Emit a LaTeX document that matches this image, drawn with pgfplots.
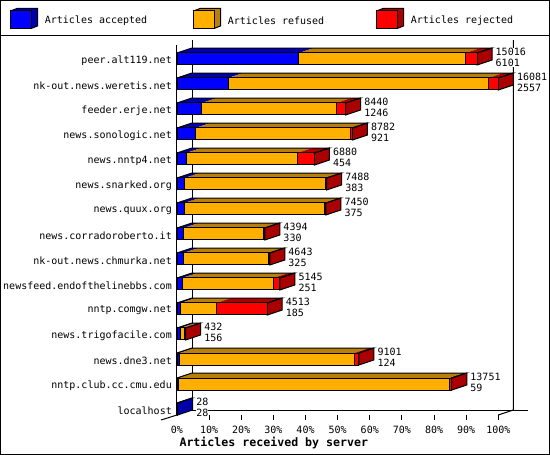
\documentclass[border=0pt]{standalone}
\usepackage{pgfplots}
\pgfplotsset{compat=1.18}
\usepackage{pgfplotstable}
\usepackage{fontspec}
\setmainfont{DejaVu Sans Mono}
\definecolor{cB}{HTML}{0000FF}\definecolor{dB}{HTML}{0000AA}
\definecolor{cO}{HTML}{FFAF00}\definecolor{dO}{HTML}{B8800A}
\definecolor{cR}{HTML}{FF0000}\definecolor{dR}{HTML}{AA0000}
\pgfplotstableread{
idx accepted refused rejected total
0  6101 8343 572 15016
1  2557 13024 500 16081
2  1246 6735 459 8440
3  921 7746 115 8782
4  454 5573 853 6880
5  383 7032 73 7488
6  375 7015 60 7450
7  330 3994 70 4394
8  325 4269 49 4643
9  251 4574 320 5145
10 185 1784 2544 4513
11 156 210 66 432
12 124 8759 218 9101
13 59 13583 109 13751
14 28 0 0 28
}\datatable
% one depth step: 15 px across and 5 px up
\newcommand{\dx}{751}
\newcommand{\dy}{0.2}
\newcommand{\hh}{0.24}
\newcommand{\topface}[4]{% row, from, to, colour
  \pgfmathsetmacro{\yf}{#1-\hh}\pgfmathsetmacro{\yb}{#1-\hh-\dy}
  \edef\xa{\the\numexpr#2+\dx\relax}\edef\xb{\the\numexpr#3+\dx\relax}
  \addplot[fill=#4,draw=none,forget plot] coordinates {(#2,\yf) (#3,\yf) (\xb,\yb) (\xa,\yb)} --cycle;
}
\newcommand{\labelnode}[4]{%
  \node[anchor=west,fill=white,inner sep=0pt,align=left,font=\fontsize{10}{11}\selectfont,xshift=3.5pt] at (axis cs:#1,#2) {#3\\#4};
}
\newcommand{\barrow}[6]{% row accepted refused rejected total sidecolour
  \edef\xo{\the\numexpr#2\relax}\edef\xr{\the\numexpr#2+#3\relax}
  \topface{#1}{0}{\xo}{dB}
  \topface{#1}{\xo}{\xr}{dO}
  \topface{#1}{\xr}{#5}{dR}
  \pgfmathsetmacro{\yf}{#1-\hh}\pgfmathsetmacro{\yb}{#1-\hh-\dy}
  \pgfmathsetmacro{\yg}{#1+\hh}\pgfmathsetmacro{\yh}{#1+\hh-\dy}
  \edef\xe{\the\numexpr#5+\dx\relax}
  \pgfmathsetmacro{\yl}{#1-0.07}
  \addplot[fill=#6,draw=black,line width=1pt,forget plot] coordinates {(#5,\yf) (\xe,\yb) (\xe,\yh) (#5,\yg)} --cycle;
  \addplot[draw=black,line width=1pt,forget plot] coordinates {(0,\yf) (\dx,\yb) (\xe,\yb) (#5,\yf)};
  \edef\temp{\noexpand\labelnode{\xe}{\yl}{#5}{#2}}\temp
}
\pgfplotsset{common/.style={
  at={(177pt,40pt)},anchor=south west,scale only axis,
  width=321.3pt,height=370pt,
  xmin=0,xmax=16081,ymin=-0.56,ymax=14.24,y dir=reverse,
  clip=false}}
\begin{document}
\begin{tikzpicture}[x=1pt,y=1pt]
\useasboundingbox (0,0) rectangle (550,455);
\fill[white] (0,0) rectangle (550,455);
\begin{axis}[common,
  axis x line*=bottom,axis y line*=left,
  x axis line style={draw=none,-},
  y axis line style={black,line width=1pt,-},
  tick style={black,line width=1pt},
  xtick={1608.1,3216.2,4824.3,6432.4,8040.5,9648.6,11256.7,12864.8,14472.9,16081},
  xticklabels={10\%,20\%,30\%,40\%,50\%,60\%,70\%,80\%,90\%,100\%},
  extra x ticks={0},extra x tick labels={0\%},
  extra x tick style={major tick length=0pt,xticklabel style={yshift=-5pt}},
  major tick length=5pt,
  tick align=outside,
  xtick pos=bottom,
  ytick={0,...,14},
  yticklabels={peer.alt119.net,nk-out.news.weretis.net,feeder.erje.net,news.sonologic.net,news.nntp4.net,news.snarked.org,news.quux.org,news.corradoroberto.it,nk-out.news.chmurka.net,newsfeed.endofthelinebbs.com,nntp.comgw.net,news.trigofacile.com,news.dne3.net,nntp.club.cc.cmu.edu,localhost},
  ytick style={draw=none},
  ytick pos=left,
  tick label style={font=\fontsize{10}{12}\selectfont},
  yticklabel style={inner sep=0pt,xshift=0pt,yshift=-1.5pt},
  xticklabel style={inner sep=0pt,yshift=-6pt},
  scaled x ticks=false,
  xlabel={\bfseries Articles received by server},
  xlabel style={font=\fontsize{11.6}{13}\selectfont,at={(axis description cs:0,0)},anchor=north west,xshift=-1pt,yshift=-18.5pt},
]
% back wall lines
\addplot[black,line width=1pt,forget plot] coordinates {(751,-0.76) (751,14.04) (17581,14.04)};
\addplot[black,line width=1pt,forget plot] coordinates {(16832,-0.76) (16832,14.04) (16081,14.24)};
\addplot[black,line width=1pt,forget plot] coordinates {(0,14.24) (-800,14.44)};
\barrow{0}{6101}{8343}{572}{15016}{dR}
\barrow{1}{2557}{13024}{500}{16081}{dR}
\barrow{2}{1246}{6735}{459}{8440}{dR}
\barrow{3}{921}{7746}{115}{8782}{dR}
\barrow{4}{454}{5573}{853}{6880}{dR}
\barrow{5}{383}{7032}{73}{7488}{dR}
\barrow{6}{375}{7015}{60}{7450}{dR}
\barrow{7}{330}{3994}{70}{4394}{dR}
\barrow{8}{325}{4269}{49}{4643}{dR}
\barrow{9}{251}{4574}{320}{5145}{dR}
\barrow{10}{185}{1784}{2544}{4513}{dR}
\barrow{11}{156}{210}{66}{432}{dR}
\barrow{12}{124}{8759}{218}{9101}{dR}
\barrow{13}{59}{13583}{109}{13751}{dR}
\barrow{14}{28}{0}{0}{28}{dB}
\end{axis}
\begin{axis}[common,hide axis,xbar stacked,bar width=12pt]
\addplot[fill=cB,draw=black,line width=1pt] table[x=accepted,y=idx]{\datatable};
\addplot[fill=cO,draw=black,line width=1pt] table[x=refused,y=idx]{\datatable};
\addplot[fill=cR,draw=black,line width=1pt] table[x=rejected,y=idx]{\datatable};
\end{axis}
% legend
\foreach \x/\c/\d/\t in {10.5/cB/dB/Articles accepted,193.5/cO/dO/Articles refused,376.5/cR/dR/Articles rejected}{
  \fill[\d,draw=black,line width=1pt] (\x,426.5) -- (\x,444) -- (\x+6.5,446.5) -- (\x+27,446.5) -- (\x+27,429) -- (\x+20.5,426.5) -- cycle;
  \draw[line width=1pt,fill=\c] (\x,426.5) rectangle (\x+20.5,444);
  \node[anchor=west,inner sep=0pt,font=\fontsize{10}{12}\selectfont] at (\x+34.2,434.2) {\t};
}
\draw[line width=1pt] (0,419.5) -- (550,419.5);
\draw[line width=2pt] (0,0) rectangle (550,455);
\end{tikzpicture}
\end{document}
